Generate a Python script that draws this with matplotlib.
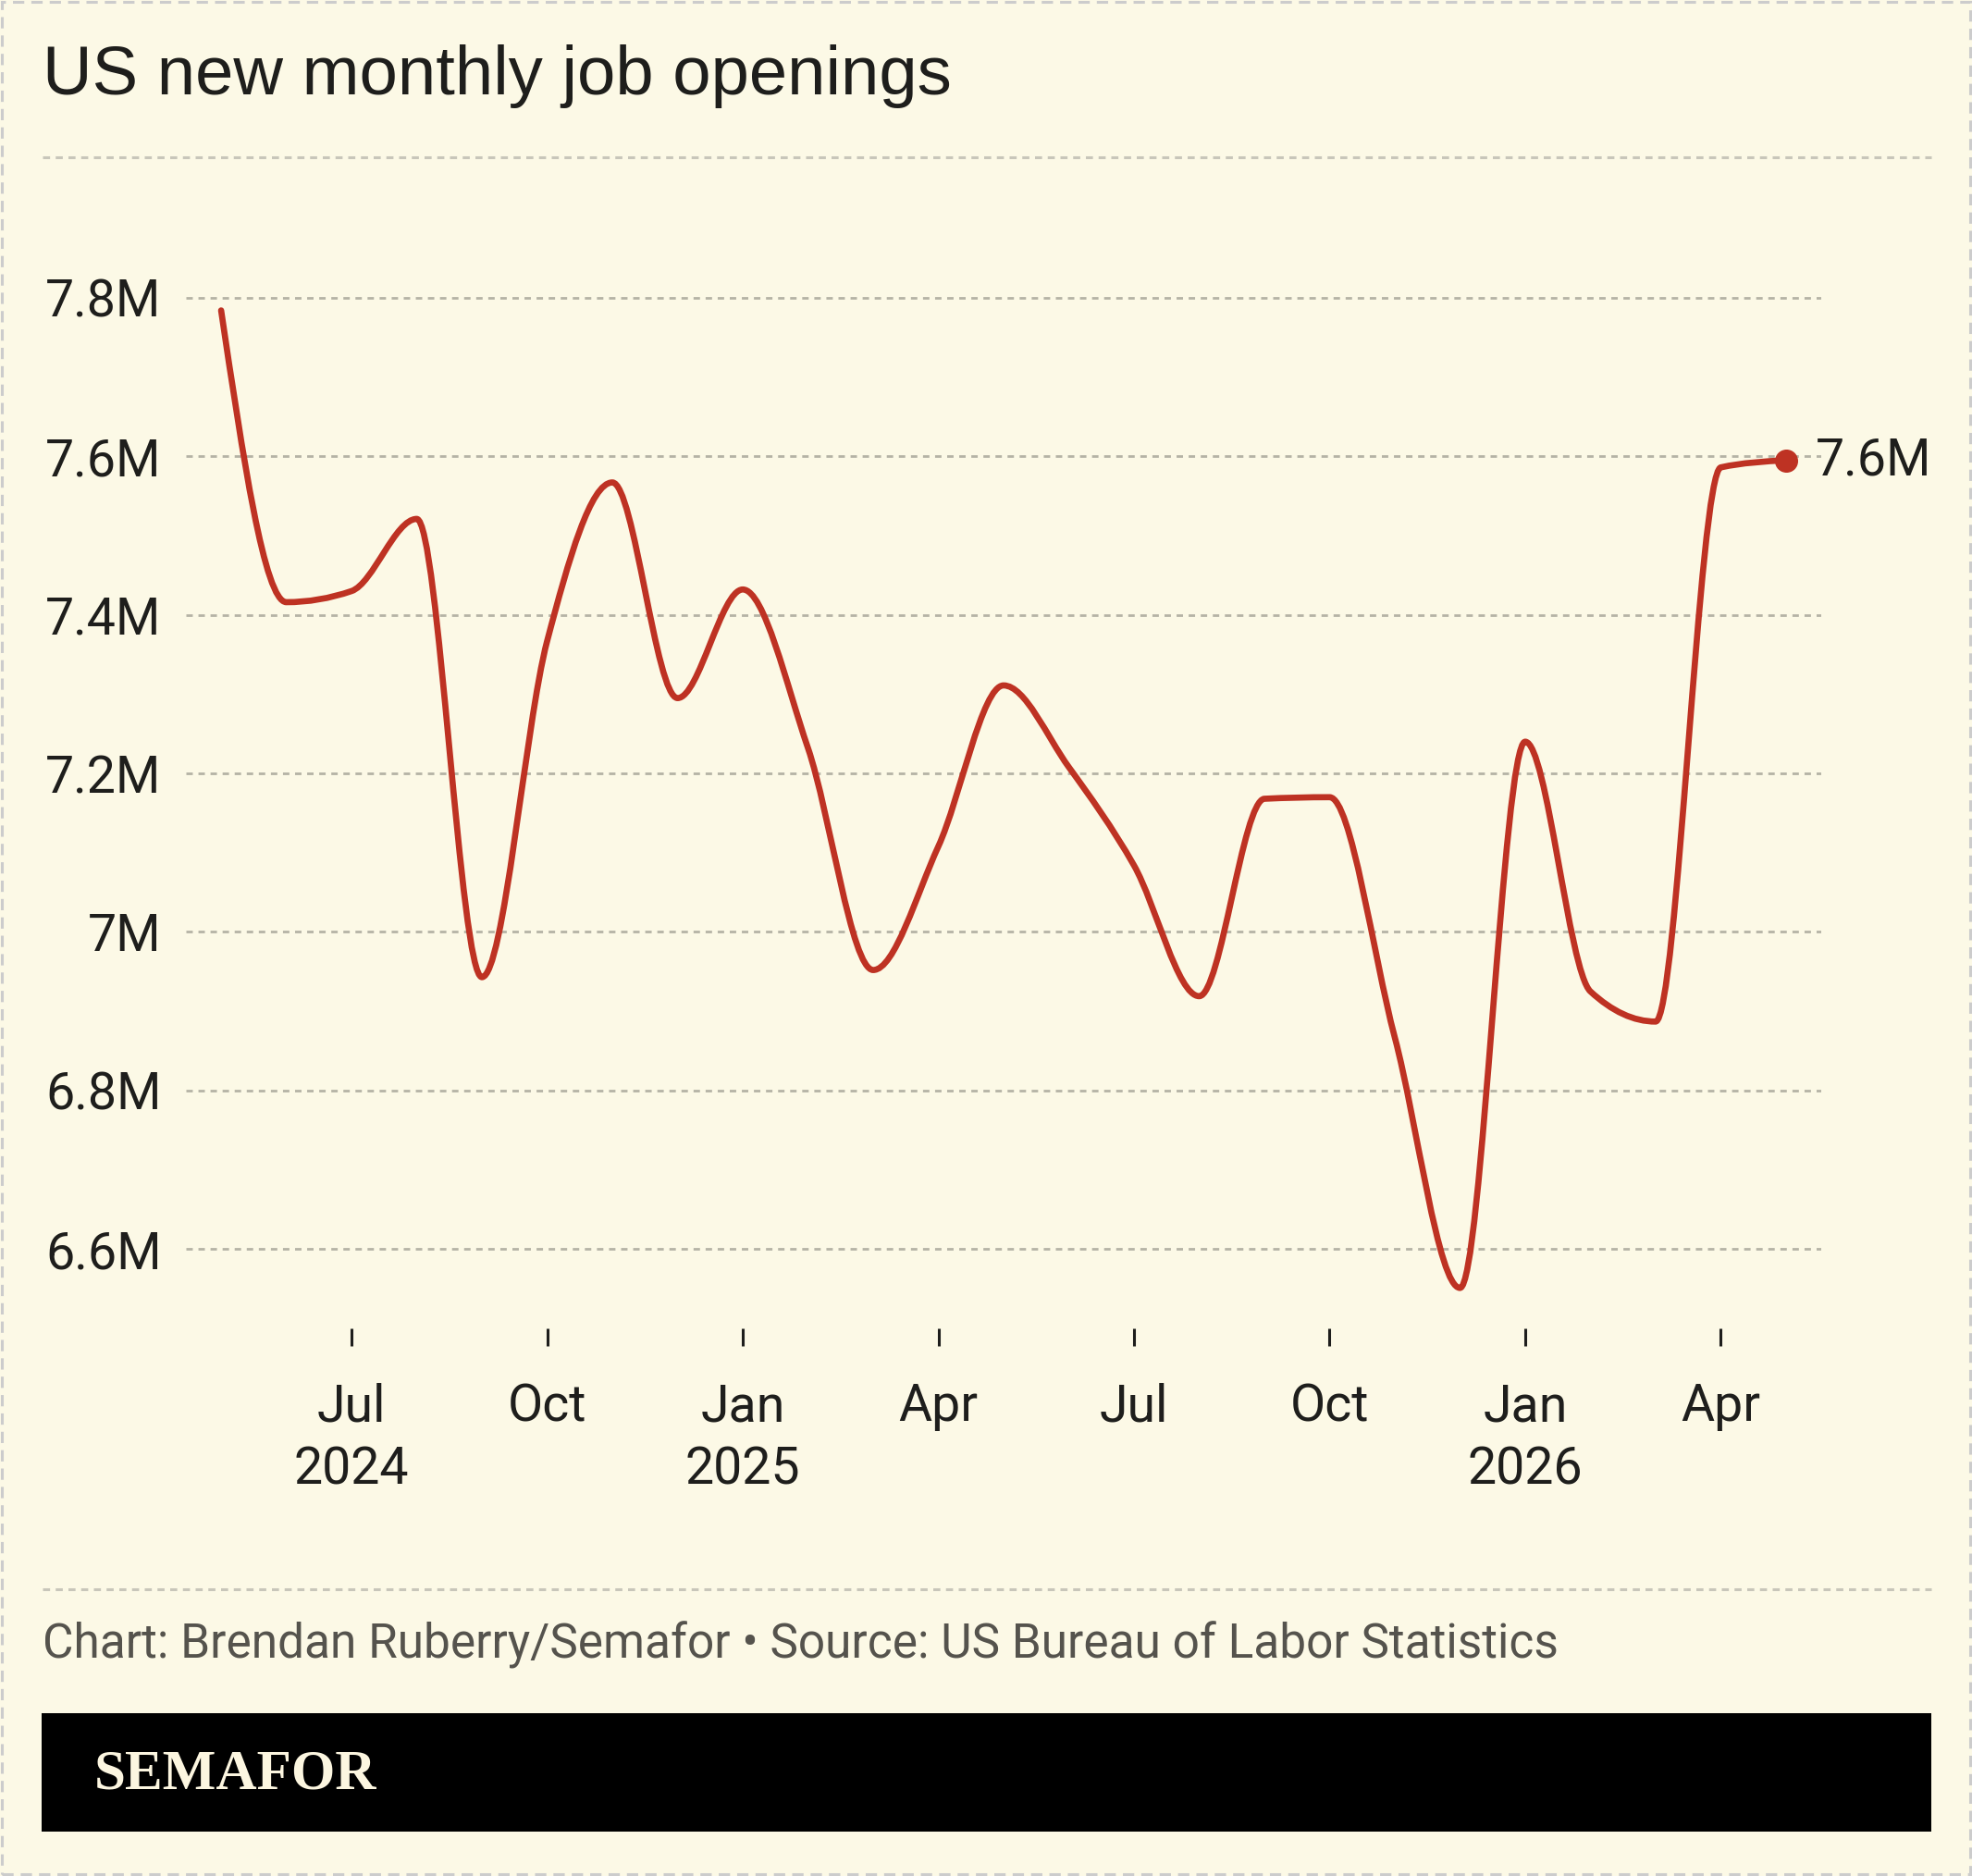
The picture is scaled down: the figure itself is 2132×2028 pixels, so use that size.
import numpy as np
import matplotlib
matplotlib.use("Agg")
import matplotlib.pyplot as plt
from matplotlib.path import Path
from matplotlib.patches import PathPatch, Rectangle
from matplotlib.lines import Line2D

# monthly job openings, millions (May 2024 .. May 2026 as labelled on the chart)
values = [7.784, 7.416, 7.430, 7.521, 6.943, 7.367, 7.567, 7.295, 7.432,
          7.232, 6.952, 7.108, 7.311, 7.208, 7.084, 6.919, 7.168, 7.170,
          6.867, 6.551, 7.240, 6.925, 6.887, 7.586, 7.595]
tick_pos = [2, 5, 8, 11, 14, 17, 20, 23]
tick_labels = ["Jul\n2024", "Oct", "Jan\n2025", "Apr", "Jul", "Oct", "Jan\n2026", "Apr"]
y_ticks = [6.6, 6.8, 7.0, 7.2, 7.4, 7.6, 7.8]
y_labels = ["6.6M", "6.8M", "7M", "7.2M", "7.4M", "7.6M", "7.8M"]
end_label = "7.6M"

BG = "#FCF9E6"
RED = "#BE3223"
INK = "#1E1E1C"
num_font = ["Roboto", "DejaVu Sans"]

W, H = 2132, 2028
fig = plt.figure(figsize=(W / 100, H / 100), dpi=100, facecolor=BG)


def fx(px):
    return px / W


def fy(py):
    return 1 - py / H


# outer dashed frame
fig.add_artist(Rectangle((fx(2), fy(H - 2)), fx(W - 4), 1 - 4 / H, transform=fig.transFigure,
                         fill=False, edgecolor="#CCCCCC", lw=2.2, ls=(0, (4, 2.5))))

fig.text(fx(46), fy(102), "US new monthly job openings", fontsize=53.5, color=INK,
         family=["Liberation Sans", "DejaVu Sans"], ha="left", va="baseline")
fig.add_artist(Line2D([fx(46), fx(2088)], [fy(170), fy(170)], color="#C8C6BA", lw=2.2,
                      ls=(0, (2.5, 2))))

ax = fig.add_axes([fx(201), fy(1436), fx(1969 - 201), (1436 - 279) / H])
ax.set_facecolor("none")
x = np.arange(len(values))
y = np.array(values)
ax.set_xlim(-0.54, len(values) - 1 + 0.54)
ax.set_ylim(6.5, 7.85)

for v in y_ticks:
    ax.axhline(v, color="#B5B3A5", lw=2, ls=(0, (2.5, 2.2)), zorder=1)

# monotone (Steffen) tangents for the smoothed line
s = np.diff(y)
m = np.zeros_like(y)
for i in range(1, len(y) - 1):
    s0, s1 = s[i - 1], s[i]
    p = (s0 + s1) / 2
    m[i] = (np.sign(s0) + np.sign(s1)) * min(abs(s0), abs(s1), 0.5 * abs(p))
m[0] = (3 * s[0] - m[1]) / 2
m[-1] = (3 * s[-1] - m[-2]) / 2

verts = [(x[0], y[0])]
codes = [Path.MOVETO]
for i in range(len(y) - 1):
    verts += [(x[i] + 1 / 3, y[i] + m[i] / 3),
              (x[i + 1] - 1 / 3, y[i + 1] - m[i + 1] / 3),
              (x[i + 1], y[i + 1])]
    codes += [Path.CURVE4] * 3
ax.add_patch(PathPatch(Path(verts, codes), facecolor="none", edgecolor=RED, lw=4.8,
                       capstyle="round", joinstyle="round", zorder=3, clip_on=False))
ax.plot(x[-1], y[-1], "o", color=RED, ms=17, zorder=4, clip_on=False)
ax.annotate(end_label, (x[-1], y[-1]), xytext=(23, 0), textcoords="offset points",
            fontsize=40, color=INK, family=num_font, va="center", ha="left",
            annotation_clip=False)

for sp in ax.spines.values():
    sp.set_visible(False)
ax.set_yticks(y_ticks)
ax.set_yticklabels(y_labels, family=num_font, fontsize=40, color=INK)
ax.tick_params(axis="y", length=0, pad=19)
ax.set_xticks(tick_pos)
ax.set_xticklabels(tick_labels, family=num_font, fontsize=40, color=INK, linespacing=1.35)
ax.tick_params(axis="x", length=14, width=2.2, color=INK, pad=28, direction="out")

fig.add_artist(Line2D([fx(46), fx(2088)], [fy(1718), fy(1718)], color="#C8C6BA", lw=2.2,
                      ls=(0, (2.5, 2))))
fig.text(fx(46), fy(1778), "Chart: Brendan Ruberry/Semafor \u2022 Source: US Bureau of Labor Statistics",
         fontsize=37, color="#55534D", family=num_font, ha="left", va="center")

fig.add_artist(Rectangle((fx(45), fy(1980)), fx(2088 - 45), (1980 - 1852) / H,
                         transform=fig.transFigure, facecolor="black", edgecolor="none"))
fig.text(fx(102), fy(1918), "SEMAFOR", fontsize=44, color="#FCF6E0", weight="bold",
         family=["Liberation Serif", "DejaVu Serif"], ha="left", va="center")

fig.savefig("out.png", dpi=100, facecolor=BG)
